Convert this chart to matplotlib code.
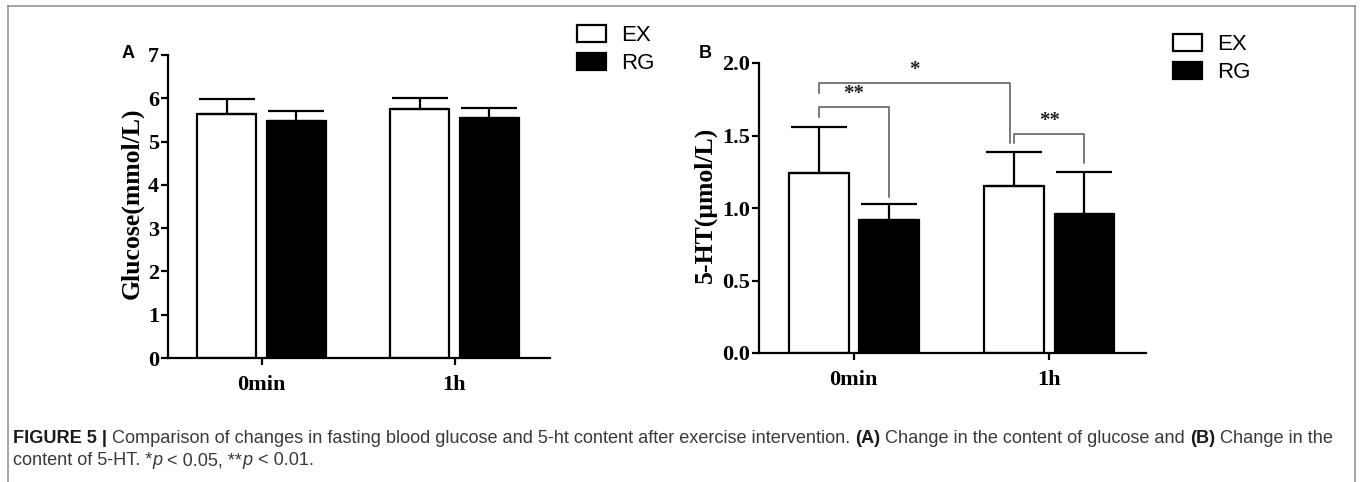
import matplotlib
matplotlib.use("Agg")
import matplotlib.pyplot as plt
from matplotlib.patches import Patch
from matplotlib.lines import Line2D
import numpy as np

# data
groups = ["0min", "1h"]
glucose_ex = [5.63, 5.75]
glucose_ex_sd = [0.35, 0.25]
glucose_rg = [5.47, 5.54]
glucose_rg_sd = [0.23, 0.24]
ht_ex = [1.24, 1.15]
ht_ex_sd = [0.32, 0.235]
ht_rg = [0.92, 0.96]
ht_rg_sd = [0.11, 0.29]

SERIF = "Liberation Serif"
SANS = ["Liberation Sans Narrow", "Liberation Sans", "DejaVu Sans"]

fig = plt.figure(figsize=(13.6, 4.82), dpi=100)
W, H = 1360.0, 482.0


def px_axes(left, right, bottom, top):
    return fig.add_axes([left / W, 1 - bottom / H, (right - left) / W, (bottom - top) / H])


def bars(ax, ex, ex_sd, rg, rg_sd):
    x = np.arange(len(groups))
    w, off = 0.306, 0.18
    err_kw = dict(ecolor="black", elinewidth=1.6, capsize=20, capthick=1.6)
    ax.bar(x - off, ex, w, color="white", edgecolor="black", linewidth=1.6,
           yerr=[np.zeros(len(ex)), ex_sd], error_kw=err_kw, label="EX", zorder=2)
    ax.bar(x + off, rg, w, color="black", edgecolor="black", linewidth=1.6,
           yerr=[np.zeros(len(rg)), rg_sd], error_kw=err_kw, label="RG", zorder=2)
    ax.set_xlim(-0.485, 1.495)
    ax.set_xticks(x)
    ax.set_xticklabels(groups, fontfamily=SERIF, fontweight="bold", fontsize=16)
    for s in ["top", "right"]:
        ax.spines[s].set_visible(False)
    for s in ["left", "bottom"]:
        ax.spines[s].set_linewidth(1.6)
    ax.tick_params(axis="x", length=5, width=1.6, pad=7)
    ax.tick_params(axis="y", length=5, width=1.6, pad=1.5)
    return x, off


# panel A: glucose
axA = px_axes(168, 550, 358, 55)
bars(axA, glucose_ex, glucose_ex_sd, glucose_rg, glucose_rg_sd)
axA.set_ylim(0, 7)
axA.set_yticks(range(0, 8))
axA.set_yticklabels([str(v) for v in range(0, 8)], fontfamily=SERIF,
                    fontweight="bold", fontsize=16)
axA.set_ylabel("Glucose(mmol/L)", fontfamily=SERIF, fontweight="bold", fontsize=18.5)
axA.yaxis.set_label_coords(-0.063, 0.51)

# panel B: 5-HT
axB = px_axes(759, 1146, 353, 63)
x, off = bars(axB, ht_ex, ht_ex_sd, ht_rg, ht_rg_sd)
axB.set_ylim(0, 2.0)
yt = [0.0, 0.5, 1.0, 1.5, 2.0]
axB.set_yticks(yt)
axB.set_yticklabels([f"{v:.1f}" for v in yt], fontfamily=SERIF,
                    fontweight="bold", fontsize=16)
axB.set_ylabel("5-HT(\u03bcmol/L)", fontfamily=SERIF, fontweight="bold", fontsize=18.5)
axB.yaxis.set_label_coords(-0.108, 0.51)


def bracket(ax, x1, x2, y, y1, y2, label):
    ax.plot([x1, x1, x2, x2], [y1, y, y, y2], color="#555555", lw=1.1,
            zorder=3, clip_on=False)
    ax.text((x1 + x2) / 2, y + 0.02, label, ha="center", va="bottom",
            fontfamily=SERIF, fontweight="bold", fontsize=15, color="#222222")


bracket(axB, x[0] - off, x[0] + off, 1.70, 1.63, 1.076, "**")
bracket(axB, x[0] - off, x[1] - off - 0.02, 1.86, 1.79, 1.45, "*")
bracket(axB, x[1] - off, x[1] + off, 1.51, 1.45, 1.31, "**")

# legends
for ax, bx, by in [(axA, 577, 25), (axB, 1173, 34)]:
    handles = [Patch(facecolor="white", edgecolor="black", linewidth=1.6, label="EX"),
               Patch(facecolor="black", edgecolor="black", linewidth=1.6, label="RG")]
    ax.legend(handles=handles, loc="upper left",
              bbox_to_anchor=(bx / W, 1 - by / H), bbox_transform=fig.transFigure,
              frameon=False, borderpad=0, borderaxespad=0, handlelength=1.3,
              handleheight=0.8, handletextpad=0.7, labelspacing=0.3,
              prop=dict(family=SANS, size=16))

# panel letters
fig.text(128 / W, 1 - 54 / H, "A", ha="center", va="center",
         fontfamily=SANS, fontweight="bold", fontsize=13)
fig.text(705 / W, 1 - 53 / H, "B", ha="center", va="center",
         fontfamily=SANS, fontweight="bold", fontsize=13)

# frame
fc = "#8c8c8c"
fig.add_artist(Line2D([8 / W, 8 / W], [0, 1 - 6 / H], color=fc, lw=1.1))
fig.add_artist(Line2D([8 / W, 1355 / W], [1 - 6 / H, 1 - 6 / H], color=fc, lw=1.1))
fig.add_artist(Line2D([1355 / W, 1355 / W], [0, 1 - 6 / H], color=fc, lw=1.1))

# caption, drawn piece by piece so weights and styles can change within a line
fig.canvas.draw()
renderer = fig.canvas.get_renderer()


def caption_line(x0, y, parts):
    xp = x0
    for txt, weight, style, color in parts:
        t = fig.text(xp / W, 1 - y / H, txt, ha="left", va="baseline",
                     fontfamily=SANS, fontsize=13.1, fontweight=weight,
                     fontstyle=style, color=color)
        xp += t.get_window_extent(renderer).width


grey = "#3a3a3a"
caption_line(13, 443, [
    ("FIGURE 5 | ", "bold", "normal", "#1a1a1a"),
    ("Comparison of changes in fasting blood glucose and 5-ht content after exercise "
     "intervention. ", "normal", "normal", grey),
    ("(A)", "bold", "normal", "#1a1a1a"),
    (" Change in the content of glucose and ", "normal", "normal", grey),
    ("(B)", "bold", "normal", "#1a1a1a"),
    (" Change in the", "normal", "normal", grey),
])
caption_line(13, 465, [
    ("content of 5-HT. *", "normal", "normal", grey),
    ("p", "normal", "italic", grey),
    (" < 0.05, **", "normal", "normal", grey),
    ("p", "normal", "italic", grey),
    (" < 0.01.", "normal", "normal", grey),
])

fig.savefig("out.png", dpi=100)
